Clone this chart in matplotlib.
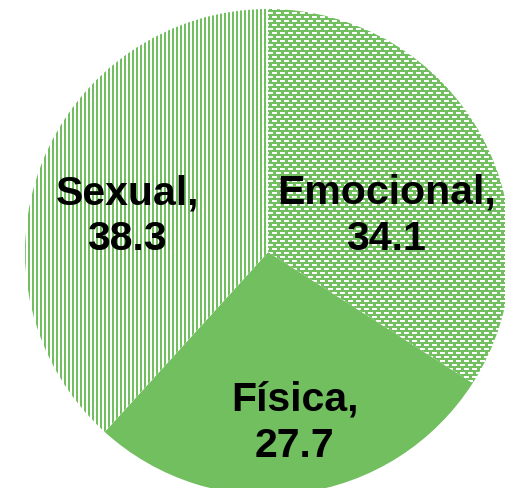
import numpy as np
import matplotlib.pyplot as plt

# data
categories = ['Emocional', 'Física', 'Sexual']
values = [34.1, 27.7, 38.3]

GREEN = '#71BF5F'
W, H = 505, 488


def texture(kind):
    """Pixel texture (RGB) the size of the figure."""
    g = np.array([int(GREEN[i:i + 2], 16) / 255 for i in (1, 3, 5)])
    img = np.ones((H, W, 3))
    yy, xx = np.mgrid[0:H, 0:W]
    if kind == 'stripes':
        mask = (xx % 4) < 2
    else:
        # green background with offset white dashes
        row = yy % 8
        shift = np.where(row < 4, 0, 4)
        white = ((row % 4) < 2) & (((xx + shift) % 8) < 5)
        mask = ~white
    img[mask] = g
    return img


fig = plt.figure(figsize=(W / 100, H / 100), dpi=100)
ax = fig.add_axes([0, 0, 1, 1])

wedges, _ = ax.pie(values, startangle=90, counterclock=False,
                   colors=['white', GREEN, 'white'],
                   wedgeprops=dict(linewidth=0))

xlim = (-1.103, 0.975)
ylim = (-0.971, 1.037)
ax.set_xlim(*xlim)
ax.set_ylim(*ylim)
ax.set_aspect('auto')
ax.axis('off')

for wedge, kind in [(wedges[0], 'dashes'), (wedges[2], 'stripes')]:
    im = ax.imshow(texture(kind), extent=(*xlim, *ylim), origin='upper',
                   interpolation='nearest', aspect='auto', zorder=2)
    im.set_clip_path(wedge)

# label placement
label_pos = [(0.486, 0.150), (0.109, -0.703), (-0.580, 0.148)]
for cat, val, (x, y) in zip(categories, values, label_pos):
    ax.text(x, y, f'{cat},\n{val}', ha='center', va='center',
            fontsize=29.5, fontweight='bold', family='Liberation Sans',
            linespacing=1.27, zorder=5)

fig.savefig('out.png', dpi=100)
